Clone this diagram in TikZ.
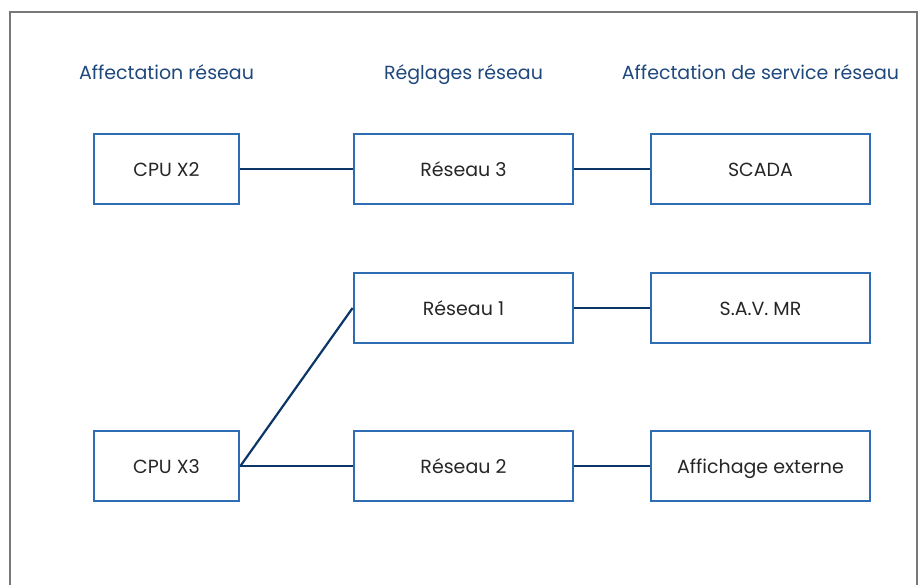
\documentclass[tikz,border=0pt]{standalone}
\usepackage{fontspec}
\setmainfont{Poppins}
\usepackage{tikz}
\definecolor{boxblue}{RGB}{46,109,180}
\definecolor{linknavy}{RGB}{11,54,104}
\definecolor{hdrnavy}{RGB}{31,72,125}
\definecolor{framegray}{RGB}{120,120,120}

\begin{document}
\begin{tikzpicture}[x=1pt, y=-1pt,
  unit/.style={draw=boxblue, line width=2.8pt, minimum width=145pt, minimum height=70pt,
               inner sep=0, text height=14pt, text depth=0pt,
               font=\fontsize{19}{22}\selectfont, text=black!85},
  wide/.style={unit, minimum width=219pt},
  hdr/.style={anchor=base, font=\fontsize{19}{22}\selectfont, text=hdrnavy},
  link/.style={draw=linknavy, line width=2.2pt},
]
\useasboundingbox (0,0) rectangle (920,584);
\draw[framegray, line width=1.2pt] (10,590) -- (10,12) -- (917,12) -- (917,590);
% ---- titres des colonnes
\node[hdr] (hA) at (166.5,79) {Affectation réseau};
\node[hdr] (hB) at (463.5,79) {Réglages réseau};
\node[hdr] (hC) at (760.5,79) {Affectation de service réseau};
% ---- colonne gauche : CPU
\node[unit] (cpu2) at (166.5,169) {CPU X2};
\node[unit] (cpu3) at (166.5,466) {CPU X3};
% ---- colonne centrale : réseaux
\node[wide] (net3) at (463.5,169) {Réseau 3};
\node[wide] (net1) at (463.5,308) {Réseau 1};
\node[wide] (net2) at (463.5,466) {Réseau 2};
% ---- colonne droite : services
\node[wide] (scada) at (760.5,169) {SCADA};
\node[wide] (sav)   at (760.5,308) {S.A.V. MR};
\node[wide] (aff)   at (760.5,466) {Affichage externe};
% ---- liaisons
\draw[link] (cpu2.east) -- (net3.west);
\draw[link] (net3.east) -- (scada.west);
\draw[link] (cpu3.east) -- (net1.west);
\draw[link] (cpu3.east) -- (net2.west);
\draw[link] (net1.east) -- (sav.west);
\draw[link] (net2.east) -- (aff.west);
\end{tikzpicture}
\end{document}
